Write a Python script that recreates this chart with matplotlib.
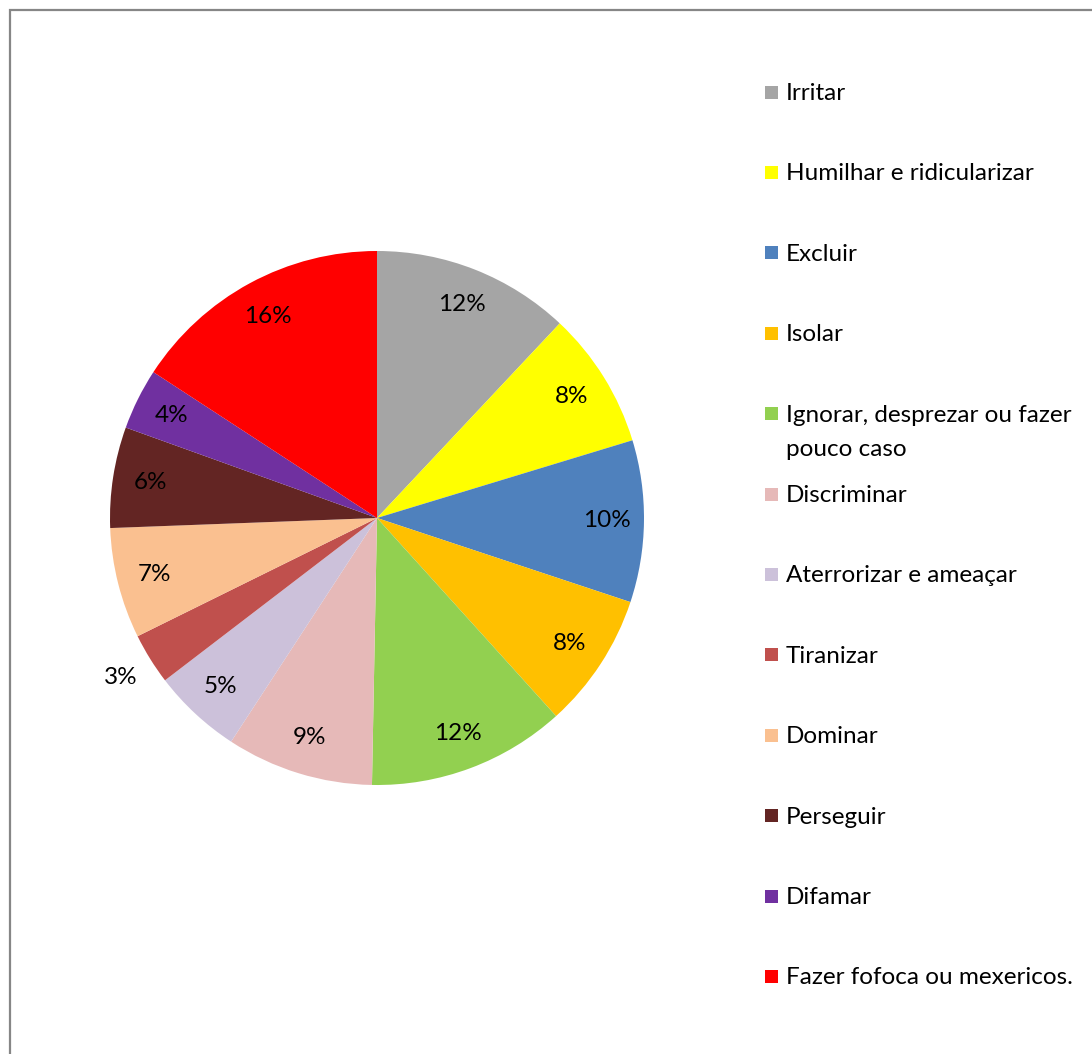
import matplotlib.pyplot as plt
import matplotlib.patches as mpatches
import numpy as np

plt.rcParams['font.family'] = ['Lato', 'DejaVu Sans']

categories = ['Irritar', 'Humilhar e ridicularizar', 'Excluir', 'Isolar',
              'Ignorar, desprezar ou fazer\npouco caso', 'Discriminar',
              'Aterrorizar e ameaçar', 'Tiranizar', 'Dominar', 'Perseguir',
              'Difamar', 'Fazer fofoca ou mexericos.']
values = [12.0, 8.3, 9.8, 8.2, 12.0, 8.9, 5.4, 3.1, 6.7, 6.1, 3.7, 15.8]
colors = ['#A5A5A5', '#FFFF00', '#4F81BD', '#FFC000', '#92D050', '#E6B9B8',
          '#CCC1DA', '#C0504D', '#FAC090', '#632523', '#7030A0', '#FF0000']

W, H = 1092, 1054
fig = plt.figure(figsize=(W / 100, H / 100), dpi=100)

# outer chart frame (right/bottom edges fall outside the image)
fig.patches.append(mpatches.Rectangle((10 / W, -0.1), 1.2, 1 - 10 / H + 0.1,
                                      transform=fig.transFigure, fill=False,
                                      edgecolor='#868686', linewidth=1.6))

cx, cy, r = 377, 518, 267
ax = fig.add_axes([(cx - r) / W, (H - cy - r) / H, 2 * r / W, 2 * r / H])
wedges, texts, autotexts = ax.pie(values, colors=colors, startangle=90,
                                  counterclock=False, autopct='%1.0f%%',
                                  pctdistance=0.86, radius=1,
                                  textprops={'fontsize': 17.5, 'color': 'black'})
ax.set_xlim(-1, 1)
ax.set_ylim(-1, 1)
ax.axis('off')

# small slice label sits outside the pie
for w, t, v in zip(wedges, autotexts, values):
    if v < 3.5:
        ang = np.deg2rad((w.theta1 + w.theta2) / 2)
        t.set_position((1.13 * np.cos(ang), 1.13 * np.sin(ang)))

# legend on the right
y0, step, line_h = 92, 80.4, 34
for i, (lab, col) in enumerate(zip(categories, colors)):
    yc = y0 + i * step
    fig.patches.append(mpatches.Rectangle((765 / W, 1 - (yc + 6.5) / H), 13 / W, 13 / H,
                                          transform=fig.transFigure,
                                          facecolor=col, edgecolor='none'))
    for j, line in enumerate(lab.split('\n')):
        fig.text(786 / W, 1 - (yc + 8 + j * line_h) / H, line, fontsize=17.5,
                 va='baseline', ha='left')

fig.savefig('out.png', dpi=100, facecolor='white')
